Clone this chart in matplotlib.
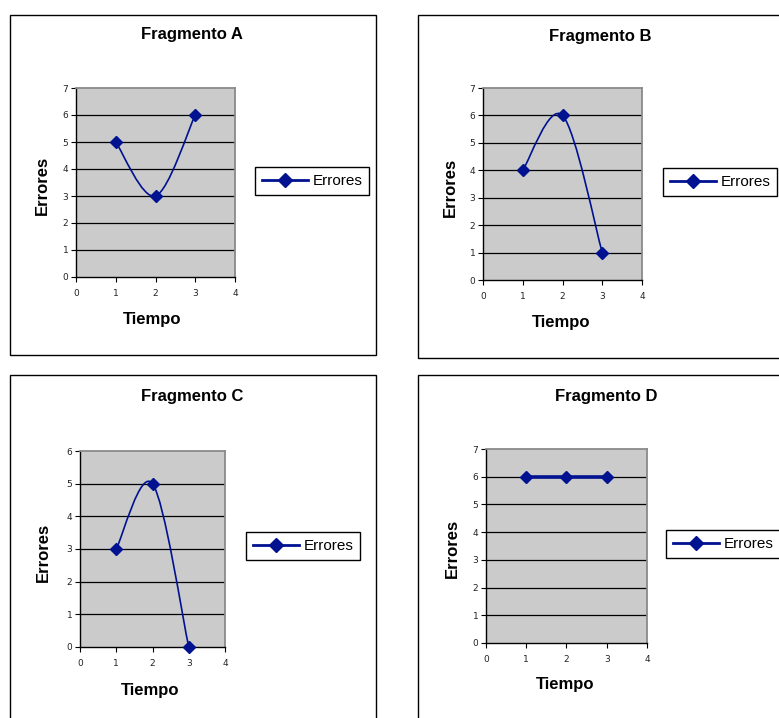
"""Four small Excel-style line charts: errors over time per fragment."""

import numpy as np
import matplotlib
matplotlib.use('Agg')
import matplotlib.pyplot as plt
from matplotlib.path import Path
from matplotlib.patches import PathPatch, Rectangle
from matplotlib.lines import Line2D

# data
tiempo = [1, 2, 3]
errores_a = [5, 3, 6]
errores_b = [4, 6, 1]
errores_c = [3, 5, 0]
errores_d = [6, 6, 6]
titulos = ['Fragmento A', 'Fragmento B', 'Fragmento C', 'Fragmento D']
y_max = [7, 7, 6, 7]

W, H = 779, 718
NAVY = '#001290'
GRAY_BG = '#CBCBCB'
FONT = 'Liberation Sans'


def fx(px):
    return px / W


def fy(py):
    return 1 - py / H


def smooth_path(x, y):
    """Excel-like smoothed line as a cubic Bezier path through the points."""
    pts = np.column_stack([x, y]).astype(float)
    n = len(pts)
    verts = [pts[0]]
    codes = [Path.MOVETO]
    for i in range(n - 1):
        p0 = pts[max(i - 1, 0)]
        p1 = pts[i]
        p2 = pts[i + 1]
        p3 = pts[min(i + 2, n - 1)]
        verts += [p1 + (p2 - p0) / 6, p2 - (p3 - p1) / 6, p2]
        codes += [Path.CURVE4] * 3
    return Path(verts, codes)


def draw_panel(fig, values, title, ymax, box, plot, title_xy, ylab_xy,
               xlab_xy, leg_box, thick=False):
    # outer chart border
    x0, y0, x1, y1 = box
    fig.patches.append(Rectangle((fx(x0), fy(y1)), fx(x1 - x0), (y1 - y0) / H,
                                 transform=fig.transFigure, fill=False,
                                 edgecolor='black', lw=1.0))
    px0, py0, px1, py1 = plot
    ax = fig.add_axes([fx(px0), fy(py1), fx(px1 - px0), (py1 - py0) / H])
    ax.set_facecolor(GRAY_BG)
    ax.set_xlim(0, 4)
    ax.set_ylim(0, ymax)
    ax.set_xticks(range(0, 5))
    ax.set_yticks(range(0, ymax + 1))
    for yv in range(1, ymax):
        ax.axhline(yv, color='black', lw=0.9, zorder=1)
    for side in ['top', 'right']:
        ax.spines[side].set_color('#8A8A8A')
        ax.spines[side].set_linewidth(1.3)
    for side in ['left', 'bottom']:
        ax.spines[side].set_color('black')
        ax.spines[side].set_linewidth(1.0)
    ax.tick_params(direction='out', length=3.5, width=0.8, labelsize=6.5,
                   colors='black', pad=5)
    for lab in ax.get_xticklabels() + ax.get_yticklabels():
        lab.set_family('DejaVu Sans')
        lab.set_color('#222222')
    ax.tick_params(axis='y', pad=2)

    if thick:
        ax.plot(tiempo, values, color=NAVY, lw=2.6, zorder=3)
    else:
        ax.add_patch(PathPatch(smooth_path(tiempo, values), fill=False,
                               edgecolor=NAVY, lw=1.2, zorder=3,
                               transform=ax.transData, clip_on=False))
    ax.plot(tiempo, values, ls='none', marker='D', ms=6.5, color=NAVY,
            zorder=4, clip_on=False)

    fig.text(fx(title_xy[0]), fy(title_xy[1]), title, ha='center',
             va='center', fontsize=12, fontweight='bold', family=FONT)
    fig.text(fx(ylab_xy[0]), fy(ylab_xy[1]), 'Errores', ha='center',
             va='center', rotation=90, fontsize=12, fontweight='bold',
             family=FONT)
    fig.text(fx(xlab_xy[0]), fy(xlab_xy[1]), 'Tiempo', ha='center',
             va='center', fontsize=12, fontweight='bold', family=FONT)

    lx0, ly0, lx1, ly1 = leg_box
    handle = Line2D([], [], color=NAVY, lw=2, marker='D', ms=7)
    leg = ax.legend([handle], ['Errores'], loc='upper left',
                    bbox_to_anchor=(fx(lx0), fy(ly0)),
                    bbox_transform=fig.transFigure, fancybox=False,
                    framealpha=1, edgecolor='black', borderpad=0.45,
                    handlelength=3.0, handletextpad=0.3, borderaxespad=0,
                    prop={'family': FONT, 'size': 11})
    leg.get_frame().set_linewidth(1.0)
    return ax


def main():
    fig = plt.figure(figsize=(W / 100, H / 100), dpi=100)
    draw_panel(fig, errores_a, titulos[0], y_max[0],
               box=(10, 15, 376, 355), plot=(76, 88, 235, 277),
               title_xy=(192, 35), ylab_xy=(42, 185), xlab_xy=(152, 320),
               leg_box=(255, 167, 370, 197))
    draw_panel(fig, errores_b, titulos[1], y_max[1],
               box=(418, 15, 800, 358), plot=(483, 88, 642, 280),
               title_xy=(600, 36), ylab_xy=(450, 187), xlab_xy=(561, 322),
               leg_box=(663, 168, 780, 198))
    draw_panel(fig, errores_c, titulos[2], y_max[2],
               box=(10, 375, 376, 740), plot=(80, 451, 225, 647),
               title_xy=(192, 397), ylab_xy=(43, 552), xlab_xy=(150, 690),
               leg_box=(246, 532, 368, 564))
    draw_panel(fig, errores_d, titulos[3], y_max[3],
               box=(418, 375, 800, 740), plot=(486, 449, 647, 643),
               title_xy=(606, 397), ylab_xy=(452, 548), xlab_xy=(565, 685),
               leg_box=(666, 530, 785, 560), thick=True)
    fig.savefig('out.png', dpi=100)


if __name__ == '__main__':
    main()
